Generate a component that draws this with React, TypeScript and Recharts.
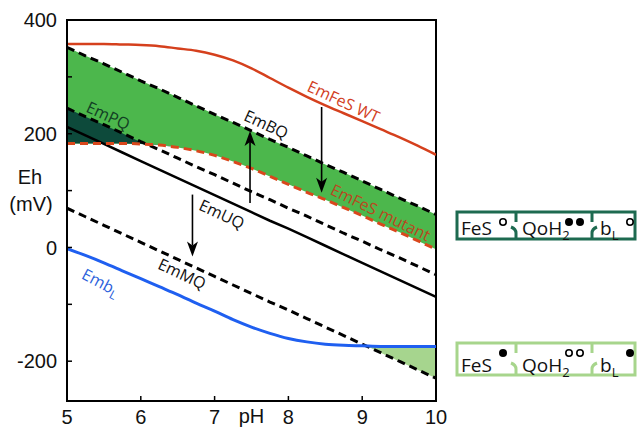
import React from 'react';
import {
  ComposedChart,
  Line,
  Area,
  XAxis,
  YAxis,
  ReferenceLine,
  ReferenceDot,
  ReferenceArea,
  Label,
} from 'recharts';

// ---------- data ----------
const pHValues = [5, 5.25, 5.5, 5.75, 6, 6.25, 6.5, 6.75, 7, 7.25, 7.5, 7.75, 8, 8.25, 8.5, 8.75, 9, 9.25, 9.5, 9.75, 10];
const emFeSWT = [358, 358, 358, 357, 356, 354, 350, 346, 339, 329, 315, 298, 281, 265, 250, 236, 222, 208, 194, 179, 163];
const emFeSMutant = [183, 183, 183, 183, 182, 180, 176, 170, 162, 151, 139, 125, 111, 97, 84, 70, 56, 41, 27, 12, -3];
const emBQ = [352, 337, 323, 308, 293, 279, 264, 249, 234, 220, 205, 190, 176, 161, 146, 132, 117, 102, 87, 73, 58];
const emPQ = [245, 230, 216, 201, 186, 172, 157, 142, 128, 113, 98, 84, 69, 55, 40, 25, 11, -4, -18, -33, -48];
const emUQ = [212, 197, 182, 167, 152, 137, 122, 107, 92, 77, 62, 47, 33, 18, 3, -12, -27, -42, -57, -72, -87];
const emMQ = [69, 54, 39, 24, 9, -6, -21, -36, -51, -66, -81, -96, -110, -125, -140, -155, -170, -185, -200, -215, -230];
const embL = [-2, -14, -27, -41, -55, -69, -83, -98, -112, -127, -140, -151, -160, -166, -170, -172, -173, -174, -174, -174, -174];

const xTicks = [5, 6, 7, 8, 9, 10];
const yTicks = [400, 300, 200, 100, 0, -100, -200];
const yTickLabels: Record<string, string> = { '400': '400', '200': '200', '0': '0', '-200': '-200' };
const xDomain = [5, 10];
const yDomain = [-270, 400];

// annotations (line labels) in data coordinates
const lineLabels = [
  { text: 'EmFeS WT', sub: '', pH: 8.75, eh: 257, angle: 25, color: '#d2401e' },
  { text: 'EmBQ', sub: '', pH: 7.7, eh: 217, angle: 25, color: '#111111' },
  { text: 'EmPQ', sub: '', pH: 5.56, eh: 232, angle: 25, color: '#123f24' },
  { text: 'EmFeS mutant', sub: '', pH: 9.25, eh: 62, angle: 26, color: '#b9481f' },
  { text: 'EmUQ', sub: '', pH: 7.1, eh: 59, angle: 25, color: '#111111' },
  { text: 'EmMQ', sub: '', pH: 6.56, eh: -46, angle: 25, color: '#111111' },
  { text: 'Emb', sub: 'L', pH: 5.46, eh: -61, angle: 28, color: '#2b5fdc' },
];

// arrows: pH, start Eh, end Eh
const arrows = [
  { pH: 8.45, from: 247, to: 96 },
  { pH: 7.48, from: 78, to: 205 },
  { pH: 6.7, from: 93, to: -16 },
];

const data = pHValues.map((p, i) => ({
  pH: p,
  wt: emFeSWT[i],
  mut: emFeSMutant[i],
  bq: emBQ[i],
  pq: emPQ[i],
  uq: emUQ[i],
  mq: emMQ[i],
  bl: embL[i],
  band: [emFeSMutant[i], emBQ[i]],
  dark: [emFeSMutant[i], Math.max(emPQ[i], emFeSMutant[i])],
  light: [Math.min(emMQ[i], embL[i]), embL[i]],
}));

const FONT_TICK = '"Liberation Sans", Arial, Helvetica, sans-serif';
const FONT_LABEL = '"Open Sans", "Noto Sans", sans-serif';

const makeLabel = (a: any) => (props: any) => {
  const vb = props.viewBox || {};
  const cx = (vb.x || 0) + (vb.width || 0) / 2;
  const cy = (vb.y || 0) + (vb.height || 0) / 2;
  return (
    <text
      x={cx}
      y={cy}
      transform={`rotate(${a.angle} ${cx} ${cy})`}
      textAnchor="middle"
      dominantBaseline="central"
      fill={a.color}
      fontSize={16}
      fontFamily={FONT_LABEL}
    >
      {a.text}
      {a.sub ? (
        <tspan dy={5} fontSize={12}>
          {a.sub}
        </tspan>
      ) : null}
    </text>
  );
};

const ArrowShape = (props: any) => {
  const { x1, y1, x2, y2 } = props;
  if ([x1, y1, x2, y2].some((v) => typeof v !== 'number' || isNaN(v))) return null;
  const dir = Math.sign(y2 - y1) || 1;
  const head = 15;
  const hw = 5.5;
  const by = y2 - dir * head;
  const ny = y2 - dir * (head - 4);
  return (
    <g>
      <line x1={x1} y1={y1} x2={x2} y2={ny} stroke="#000" strokeWidth={1.6} />
      <polygon points={`${x2},${y2} ${x2 - hw},${by} ${x2},${ny} ${x2 + hw},${by}`} fill="#000" />
    </g>
  );
};

const YTitle = (props: any) => {
  const vb = props.viewBox || {};
  const cx = (vb.x || 0) + 23;
  const mid = (vb.y || 0) + (vb.height || 0) / 2;
  return (
    <g fontFamily={FONT_TICK} fontSize={20} fill="#111">
      <text x={cx} y={mid - 27} textAnchor="middle">
        Eh
      </text>
      <text x={cx + 1} y={mid} textAnchor="middle">
        (mV)
      </text>
    </g>
  );
};

const XTitle = (props: any) => {
  const vb = props.viewBox || {};
  const cx = (vb.x || 0) + (vb.width || 0) / 2;
  const y = (vb.y || 0) + 22;
  return (
    <text x={cx} y={y} textAnchor="middle" fontFamily={FONT_TICK} fontSize={20} fill="#111">
      pH
    </text>
  );
};

const Gate = ({ x, top, bottom, gateTop, hookTop, flip, color }: any) => (
  <g stroke={color} strokeWidth={3} fill="none">
    <line x1={x} y1={top} x2={x} y2={gateTop} />
    <path
      d={
        flip
          ? `M ${x} ${bottom} L ${x} ${hookTop + 6} Q ${x} ${hookTop + 2} ${x + 5} ${hookTop}`
          : `M ${x} ${bottom} L ${x} ${hookTop + 6} Q ${x} ${hookTop + 2} ${x - 5} ${hookTop}`
      }
    />
  </g>
);

const StateBox = ({ y, h, color, fesFilled, qFilled, blFilled, dotY, textY }: any) => {
  const x0 = 457;
  const x1 = 635;
  const fontProps = { fontFamily: FONT_LABEL, fontSize: 19, fill: '#111' };
  const dot = (cx: number, filled: boolean, r: number) => (
    <circle cx={cx} cy={dotY} r={filled ? r + 0.8 : r} fill={filled ? '#000' : '#fff'} stroke="#000" strokeWidth={filled ? 0 : 1.6} />
  );
  return (
    <g>
      <rect x={x0} y={y} width={x1 - x0} height={h} fill="#fff" stroke={color} strokeWidth={3} />
      <Gate x={516} top={y} bottom={y + h} gateTop={y + 10} hookTop={y + h - 12} flip={false} color={color} />
      <Gate x={592} top={y} bottom={y + h} gateTop={y + 10} hookTop={y + h - 12} flip={true} color={color} />
      <text x={461} y={textY} {...fontProps}>
        FeS
      </text>
      {dot(503, fesFilled, 3.2)}
      <text x={522} y={textY} {...fontProps}>
        QoH
        <tspan dy={5} fontSize={13}>
          2
        </tspan>
      </text>
      {dot(569, qFilled, 3.2)}
      {dot(580, qFilled, 3.2)}
      <text x={600} y={textY} {...fontProps}>
        b
        <tspan dy={5} fontSize={13}>
          L
        </tspan>
      </text>
      {dot(630, blFilled, 3.2)}
    </g>
  );
};

export default function App() {
  return (
    <div style={{ position: 'absolute', left: 0, top: 0, width: 643, height: 429, background: '#fff' }}>
      <ComposedChart
        width={643}
        height={429}
        data={data}
        margin={{ top: 20, right: 207, bottom: 0, left: 7 }}
      >
        <XAxis
          dataKey="pH"
          type="number"
          domain={xDomain}
          ticks={xTicks}
          interval={0}
          allowDataOverflow
          height={28}
          tickSize={-5}
          tickMargin={14}
          axisLine={{ stroke: '#000', strokeWidth: 2 }}
          tickLine={{ stroke: '#000', strokeWidth: 1.5 }}
          tick={{ fill: '#111', fontSize: 20, fontFamily: FONT_TICK }}
        >
          <Label content={XTitle} />
        </XAxis>
        <YAxis
          type="number"
          domain={yDomain}
          ticks={yTicks}
          interval={0}
          allowDataOverflow
          width={60}
          tickSize={-5}
          tickMargin={15}
          tickFormatter={(v: any) => yTickLabels[String(v)] ?? ''}
          axisLine={{ stroke: '#000', strokeWidth: 2 }}
          tickLine={{ stroke: '#000', strokeWidth: 1.5 }}
          tick={{ fill: '#111', fontSize: 20, fontFamily: FONT_TICK }}
        >
          <Label content={YTitle} />
        </YAxis>

        <Area dataKey="band" type="monotone" fill="#4cb74c" fillOpacity={1} stroke="none" isAnimationActive={false} />
        <Area dataKey="dark" type="monotone" fill="#0d4a3b" fillOpacity={1} stroke="none" isAnimationActive={false} />
        <Area dataKey="light" type="monotone" fill="#a6d58e" fillOpacity={1} stroke="none" isAnimationActive={false} />

        <Line dataKey="wt" type="monotone" stroke="#d5401d" strokeWidth={2.5} dot={false} isAnimationActive={false} />
        <Line dataKey="bq" type="linear" stroke="#000" strokeWidth={3} strokeDasharray="8 5" dot={false} isAnimationActive={false} />
        <Line dataKey="pq" type="linear" stroke="#000" strokeWidth={3} strokeDasharray="8 5" dot={false} isAnimationActive={false} />
        <Line dataKey="uq" type="linear" stroke="#000" strokeWidth={2.5} dot={false} isAnimationActive={false} />
        <Line dataKey="mq" type="linear" stroke="#000" strokeWidth={3} strokeDasharray="8 5" dot={false} isAnimationActive={false} />
        <Line dataKey="mut" type="monotone" stroke="#d9471c" strokeWidth={3} strokeDasharray="8 5" dot={false} isAnimationActive={false} />
        <Line dataKey="bl" type="monotone" stroke="#1f5ff0" strokeWidth={3} dot={false} isAnimationActive={false} />

        <ReferenceArea
          x1={xDomain[0]}
          x2={xDomain[1]}
          y1={yDomain[0]}
          y2={yDomain[1]}
          fill="none"
          fillOpacity={0}
          stroke="#000"
          strokeWidth={2}
          ifOverflow="visible"
        />

        {arrows.map((a, i) => (
          <ReferenceLine
            key={`arr${i}`}
            segment={[
              { x: a.pH, y: a.from },
              { x: a.pH, y: a.to },
            ]}
            shape={ArrowShape}
            ifOverflow="visible"
          />
        ))}

        {lineLabels.map((a, i) => (
          <ReferenceDot
            key={`lbl${i}`}
            x={a.pH}
            y={a.eh}
            r={0}
            fill="none"
            stroke="none"
            ifOverflow="visible"
            label={makeLabel(a)}
          />
        ))}
      </ComposedChart>

      <svg
        width={643}
        height={429}
        style={{ position: 'absolute', left: 0, top: 0, pointerEvents: 'none' }}
      >
        <StateBox y={212} h={27} color="#1d6a50" fesFilled={false} qFilled={true} blFilled={false} dotY={222} textY={235} />
        <StateBox y={343} h={32} color="#a7d58c" fesFilled={true} qFilled={false} blFilled={true} dotY={353} textY={372} />
      </svg>
    </div>
  );
}
